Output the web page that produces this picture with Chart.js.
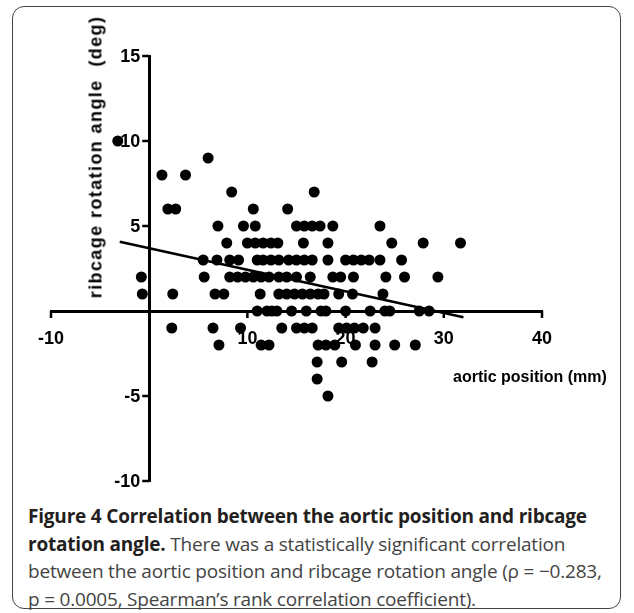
<!DOCTYPE html>
<html>
<head>
<meta charset="utf-8">
<script src="https://cdn.jsdelivr.net/npm/chart.js@4/dist/chart.umd.min.js"></script>
<style>
  html, body { margin:0; padding:0; background:#fff; }
  body { width:634px; height:613px; position:relative; overflow:hidden; }
  #frame { position:absolute; left:12px; top:6px; width:609px; height:603px; border:1.5px solid #444; border-radius:12px; box-sizing:border-box; }
  #wrap { position:absolute; left:0; top:0; width:634px; height:500px; }
  #ytitle { position:absolute; left:96px; top:157px; transform:translate(-50%,-50%) rotate(-90deg); white-space:nowrap;
            font:bold 18px "Liberation Sans", Arial, sans-serif; letter-spacing:1.4px; color:#000; }
  #xtitle { position:absolute; left:453px; top:368px; white-space:nowrap; font:bold 16px "Liberation Sans", Arial, sans-serif; color:#000; }
  #caption { position:absolute; left:28px; top:503px; width:600px; font:19px "Open Sans", sans-serif; line-height:27.5px; color:#444; white-space:nowrap; letter-spacing:-0.2px; }
  #caption b { color:#231f20; font-weight:bold; }
</style>
</head>
<body>
<div id="frame"></div>
<div id="wrap"><canvas id="c" width="634" height="500"></canvas></div>
<div id="ytitle">ribcage rotation angle&nbsp;&nbsp;(deg)</div>
<div id="xtitle">aortic position (mm)</div>
<div id="caption"><b>Figure 4 Correlation between the aortic position and ribcage<br>rotation angle.</b> There was a statistically significant correlation<br>between the aortic position and ribcage rotation angle (ρ = −0.283,<br>p = 0.0005, Spearman’s rank correlation coefficient).</div>
<script>
// Aortic position (mm) and ribcage rotation angle (deg)
const aorticPosition = [
  -3.2,
  6,
  1.3, 3.7,
  8.4, 16.8,
  1.9, 2.7, 10.6, 14.1,
  7, 9.6, 10.8, 15, 15.8, 16.6, 17.4, 18.7, 23.5,
  7.9, 10, 10.8, 11.6, 12.4, 13.1, 15.7, 18.2, 24.7, 27.9, 31.7,
  5.5, 6.9, 8.2, 9.1, 11, 11.6, 12.4, 13.2, 14.2, 15, 15.8, 16.6, 18.2, 20, 20.8, 21.6, 22.4, 23.5, 25.7,
  -0.8, 5.6, 8.2, 9, 9.8, 10.6, 11.4, 12.2, 13.2, 14, 15, 16.4, 18.7, 19.5, 20.8, 24.1, 26, 29.4,
  -0.7, 2.4, 6.7, 7.6, 11.3, 13.2, 14, 14.8, 15.6, 16.4, 17.2, 17.8, 19.3, 20.7, 23.8,
  11, 12, 12.5, 13, 14.5, 16, 17.5, 18, 20, 22.5, 24, 24.5, 27.5, 28.5,
  2.3, 6.5, 9.3, 13.5, 15, 15.8, 16.6, 19.3, 20.1, 20.9, 21.8, 23,
  7.1, 11.4, 12.2, 17.2, 18, 18.9, 21, 23, 25, 27.1,
  17.1, 19.6, 22.7,
  17.1,
  18.2
];
const ribcageAngle = [
  10,
  9,
  8, 8,
  7, 7,
  6, 6, 6, 6,
  5, 5, 5, 5, 5, 5, 5, 5, 5,
  4, 4, 4, 4, 4, 4, 4, 4, 4, 4, 4,
  3, 3, 3, 3, 3, 3, 3, 3, 3, 3, 3, 3, 3, 3, 3, 3, 3, 3, 3,
  2, 2, 2, 2, 2, 2, 2, 2, 2, 2, 2, 2, 2, 2, 2, 2, 2, 2,
  1, 1, 1, 1, 1, 1, 1, 1, 1, 1, 1, 1, 1, 1, 1,
  0, 0, 0, 0, 0, 0, 0, 0, 0, 0, 0, 0, 0, 0,
  -1, -1, -1, -1, -1, -1, -1, -1, -1, -1, -1, -1,
  -2, -2, -2, -2, -2, -2, -2, -2, -2, -2,
  -3, -3, -3,
  -4,
  -5
];
// Regression line end points
const fitX = [-3, 32];
const fitY = [4.07, -0.37];
// Axis ticks
const xTicks = [-10, 0, 10, 20, 30, 40];
const yTicks = [-10, -5, 0, 5, 10, 15];

const points = aorticPosition.map((x, i) => ({ x: x, y: ribcageAngle[i] }));
const fitLine = fitX.map((x, i) => ({ x: x, y: fitY[i] }));

const tickFont = { family: 'Liberation Sans', weight: 'bold', size: 18 };
const hideZero = v => (v === 0 ? '' : String(v));

// Tick marks for both crossing axes and labels of the y axis
const crossTicks = {
  id: 'crossTicks',
  afterDraw(chart) {
    const { ctx, scales: { x, y } } = chart;
    const x0 = x.getPixelForValue(0);
    const y0 = y.getPixelForValue(0);
    ctx.save();
    ctx.strokeStyle = '#000';
    ctx.lineWidth = 2.5;
    ctx.beginPath();
    xTicks.forEach(v => {
      if (v === 0) return;
      const px = x.getPixelForValue(v);
      ctx.moveTo(px, y0); ctx.lineTo(px, y0 + 7);
    });
    yTicks.forEach(v => {
      if (v === 0) return;
      const py = y.getPixelForValue(v);
      ctx.moveTo(x0, py); ctx.lineTo(x0 - 7, py);
    });
    ctx.stroke();
    ctx.fillStyle = '#000';
    ctx.font = 'bold 18px "Liberation Sans", Arial, sans-serif';
    ctx.textAlign = 'right';
    ctx.textBaseline = 'middle';
    yTicks.forEach(v => {
      if (v === 0) return;
      ctx.fillText(String(v), x0 - 9, y.getPixelForValue(v) + 1);
    });
    ctx.restore();
  }
};

new Chart(document.getElementById('c'), {
  type: 'scatter',
  data: {
    datasets: [
      { type: 'line', data: fitLine, borderColor: '#000', borderWidth: 2.5, pointRadius: 0, fill: false, order: 0 },
      { data: points, backgroundColor: '#000', borderColor: '#000', borderWidth: 0, pointRadius: 5.5, order: 1 }
    ]
  },
  plugins: [crossTicks],
  options: {
    responsive: false,
    animation: false,
    devicePixelRatio: 1,
    layout: { padding: { left: 51, right: 92, top: 56, bottom: 19 } },
    plugins: { legend: { display: false }, tooltip: { enabled: false } },
    scales: {
      x: {
        type: 'linear', min: xTicks[0], max: xTicks[xTicks.length - 1],
        position: { y: 0 },
        afterBuildTicks: s => { s.ticks = xTicks.map(v => ({ value: v })); },
        ticks: { callback: hideZero, font: tickFont, color: '#000', padding: 17, maxRotation: 0, autoSkip: false },
        grid: { display: true, drawOnChartArea: false, drawTicks: false, color: '#000' },
        border: { color: '#000', width: 3 }
      },
      y: {
        type: 'linear', min: yTicks[0], max: yTicks[yTicks.length - 1],
        position: { x: 0 },
        afterBuildTicks: s => { s.ticks = yTicks.map(v => ({ value: v })); },
        ticks: { callback: () => '', font: tickFont, color: '#000', autoSkip: false },
        grid: { display: true, drawOnChartArea: false, drawTicks: false, color: '#000' },
        border: { color: '#000', width: 3 }
      }
    }
  }
});
</script>
</body>
</html>
